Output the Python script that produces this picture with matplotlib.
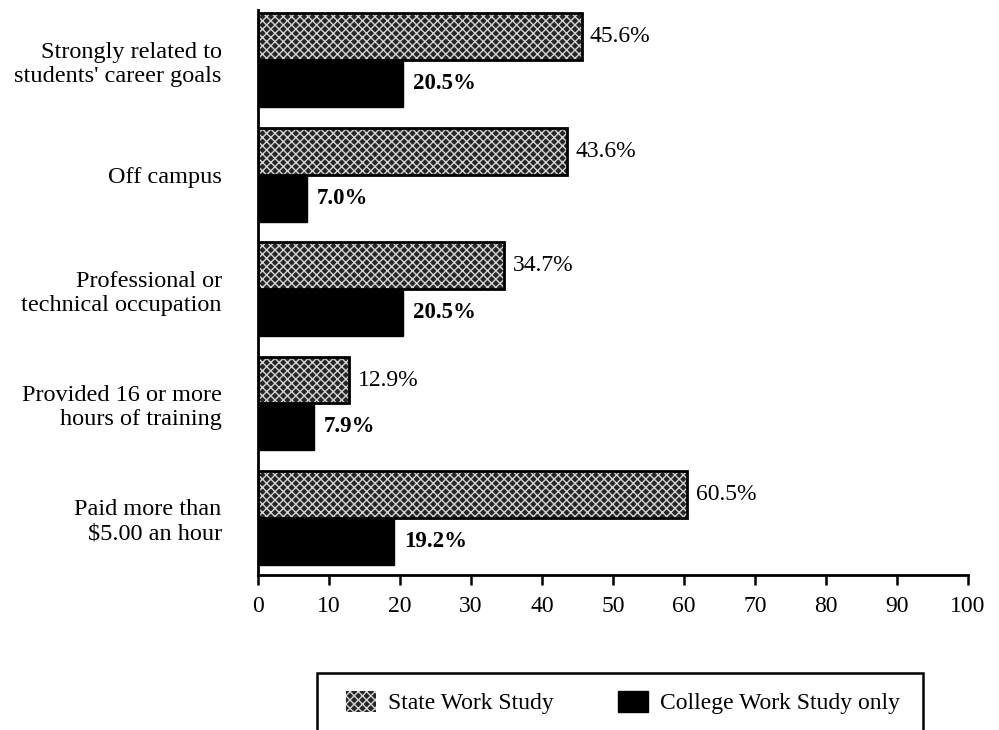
import matplotlib
matplotlib.use("Agg")
import matplotlib.pyplot as plt
import matplotlib.patches as mpatches
import numpy as np

# Job characteristics, work study programs
categories = [
    "Strongly related to\nstudents' career goals",
    "Off campus",
    "Professional or\ntechnical occupation",
    "Provided 16 or more\nhours of training",
    "Paid more than\n$5.00 an hour",
]
state_ws = [45.6, 43.6, 34.7, 12.9, 60.5]
college_ws = [20.5, 7.0, 20.5, 7.9, 19.2]
series_names = ["State Work Study", "College Work Study only"]
x_ticks = [0, 10, 20, 30, 40, 50, 60, 70, 80, 90, 100]

plt.rcParams["font.family"] = ["Liberation Serif", "DejaVu Serif"]
plt.rcParams["hatch.color"] = "#d4d4d4"
plt.rcParams["hatch.linewidth"] = 1.0

STATE_FILL = "#262626"
STATE_HATCH = "xxxx"

fig = plt.figure(figsize=(9.99, 7.3), dpi=100)
ax = fig.add_axes([0.258, 0.2123, 0.711, 0.774])

y = np.arange(len(categories))
h = 0.41

# state bars: stippled fill, then a black outline on top
ax.barh(y - h / 2, state_ws, height=h, color=STATE_FILL, hatch=STATE_HATCH,
        edgecolor="#d4d4d4", linewidth=0, label=series_names[0])
ax.barh(y - h / 2, state_ws, height=h, fill=False, edgecolor="black", linewidth=2)
ax.barh(y + h / 2, college_ws, height=h, color="black", edgecolor="black",
        linewidth=1.0, label=series_names[1])

for yi, v in zip(y, state_ws):
    ax.annotate(f"{v:.1f}%", (v, yi - h / 2), xytext=(6, 0), textcoords="offset points",
                va="center", ha="left", fontsize=17)
for yi, v in zip(y, college_ws):
    ax.annotate(f"{v:.1f}%", (v, yi + h / 2), xytext=(7, 0), textcoords="offset points",
                va="center", ha="left", fontsize=16.5, fontweight="bold")

ax.set_xlim(0, 100)
ax.set_ylim(4.5, -0.44)
ax.set_yticks(y)
ax.set_yticklabels(categories, fontsize=17.5, linespacing=1.2)
ax.tick_params(axis="y", length=0, pad=26)
ax.set_xticks(x_ticks)
ax.tick_params(axis="x", direction="out", length=7, width=1.8, labelsize=17, pad=8)

for s in ["top", "right"]:
    ax.spines[s].set_visible(False)
ax.spines["bottom"].set_linewidth(2)
ax.spines["left"].set_linewidth(2)

# legend in an open box running off the bottom edge
handles = [mpatches.Patch(facecolor=STATE_FILL, hatch=STATE_HATCH, edgecolor="#d4d4d4", linewidth=0),
           mpatches.Patch(facecolor="black", edgecolor="black")]
fig.legend(handles, series_names, loc="center", bbox_to_anchor=(0.6236, 0.0375), ncol=2,
           frameon=False, fontsize=17, handlelength=1.25, handleheight=1.0,
           columnspacing=2.75, handletextpad=0.5)
fig.patches.append(mpatches.Rectangle((0.317, -0.05), 0.607, 0.128, transform=fig.transFigure,
                                      fill=False, edgecolor="black", linewidth=1.8))

fig.savefig("out.png", dpi=100, facecolor="white")
